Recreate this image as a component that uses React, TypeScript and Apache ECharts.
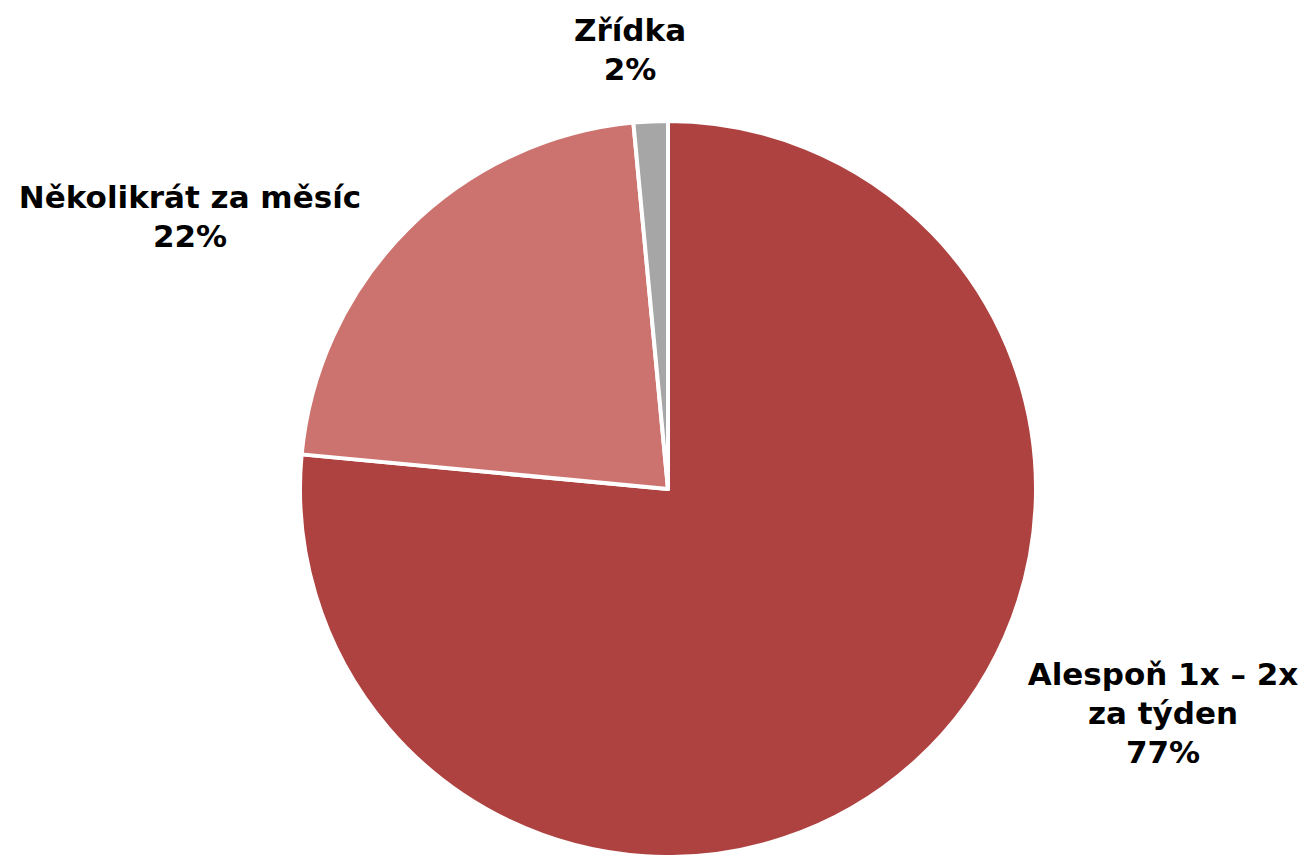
import React, { useEffect, useRef } from "react";
import * as echarts from "echarts";

const categories = ["Alespoň 1x – 2x\nza týden", "Několikrát za měsíc", "Zřídka"];
const values = [76.5, 22.0, 1.5];
const colors = ["#AE4240", "#CC736F", "#A6A6A6"];
const labelPositions = [
  { x: 1163, y: 713 },
  { x: 190, y: 216 },
  { x: 630, y: 49 },
];

export default function App() {
  const ref = useRef<HTMLDivElement>(null);
  useEffect(() => {
    if (!ref.current) return;
    const chart = echarts.init(ref.current, undefined, { renderer: "svg" });
    chart.setOption({
      animation: false,
      backgroundColor: "#ffffff",
      series: [
        {
          type: "pie",
          center: [668, 489],
          radius: 368,
          startAngle: 90,
          clockwise: true,
          data: categories.map((name, i) => ({
            name,
            value: values[i],
            itemStyle: { color: colors[i] },
          })),
          itemStyle: { borderColor: "#ffffff", borderWidth: 4 },
          label: {
            show: true,
            position: "outside",
            formatter: (p: any) => `${p.name}\n${Math.round(p.value)}%`,
            fontFamily: "DejaVu Sans",
            fontWeight: "bold",
            fontSize: 31,
            lineHeight: 39,
            color: "#000000",
            align: "center",
          },
          labelLine: { show: false },
          labelLayout: (params: any) => {
            const p = labelPositions[params.dataIndex];
            return { x: p.x, y: p.y, align: "center", verticalAlign: "middle" };
          },
          emphasis: { disabled: true },
        },
      ],
    });
    return () => chart.dispose();
  }, []);
  return (
    <div
      ref={ref}
      style={{ position: "fixed", left: 0, top: 0, width: 1308, height: 855 }}
    />
  );
}
